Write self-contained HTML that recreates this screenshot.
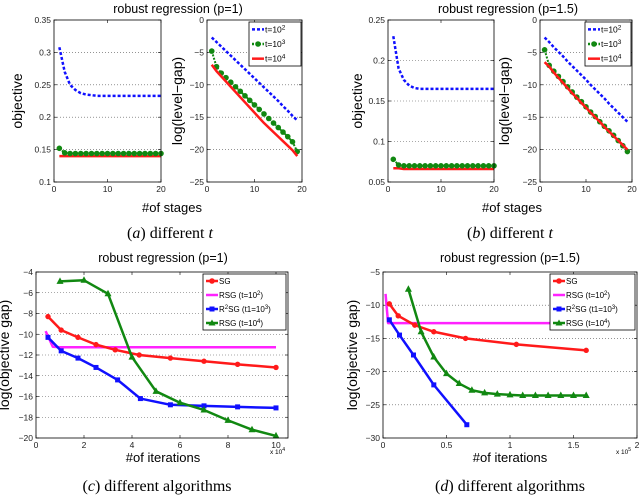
<!DOCTYPE html>
<html><head><meta charset="utf-8">
<style>
html,body{margin:0;padding:0;background:#fff;}
svg{display:block;font-family:"Liberation Sans",sans-serif;}
.cap{font-family:"Liberation Serif",serif;font-size:16px;}
</style></head>
<body>
<svg id="fig" width="640" height="497" viewBox="0 0 640 497" xmlns="http://www.w3.org/2000/svg">
<g><text x="178" y="13" font-size="12.5" text-anchor="middle">robust regression (p=1)</text></g>
<g><text x="508" y="13" font-size="12.5" text-anchor="middle">robust regression (p=1.5)</text></g>
<g><text x="163" y="262" font-size="12.5" text-anchor="middle">robust regression (p=1)</text></g>
<g><text x="510" y="262" font-size="12.5" text-anchor="middle">robust regression (p=1.5)</text></g>
<text x="172" y="212" font-size="13" text-anchor="middle">#of stages</text>
<text x="512" y="212" font-size="13" text-anchor="middle">#of stages</text>
<text x="163" y="462" font-size="13" text-anchor="middle">#of iterations</text>
<text x="510" y="462" font-size="13" text-anchor="middle">#of iterations</text>
<text x="170" y="238" class="cap" text-anchor="middle">(<tspan font-style="italic">a</tspan>) different <tspan font-style="italic">t</tspan></text>
<text x="510" y="238" class="cap" text-anchor="middle">(<tspan font-style="italic">b</tspan>) different <tspan font-style="italic">t</tspan></text>
<text x="157" y="491" class="cap" text-anchor="middle">(<tspan font-style="italic">c</tspan>) different algorithms</text>
<text x="510" y="491" class="cap" text-anchor="middle">(<tspan font-style="italic">d</tspan>) different algorithms</text>
</svg>
<script>
// ---- data ----
const stages = [1,2,3,4,5,6,7,8,9,10,11,12,13,14,15,16,17,18,19,20];
const aObjBlue  = [0.308,0.27,0.25,0.242,0.237,0.235,0.234,0.233,0.233,0.233,0.233,0.233,0.233,0.233,0.233,0.233,0.233,0.233,0.233,0.233];
const aObjGreen = [0.152,0.145,0.144,0.144,0.144,0.144,0.144,0.144,0.144,0.144,0.144,0.144,0.144,0.144,0.144,0.144,0.144,0.144,0.144,0.144];
const aObjRed   = [0.140,0.140,0.140,0.140,0.140,0.140,0.140,0.140,0.140,0.140,0.140,0.140,0.140,0.140,0.140,0.140,0.140,0.140,0.140,0.140];
const aGapBlue  = [-2.7,-3.4,-4.1,-4.8,-5.5,-6.2,-6.9,-7.6,-8.3,-9.0,-9.7,-10.4,-11.1,-11.8,-12.5,-13.3,-14.0,-14.8,-15.5];
const aGapGreen = [-4.8,-7.2,-8.2,-8.9,-9.6,-10.3,-11.0,-11.7,-12.4,-13.1,-13.8,-14.5,-15.2,-15.9,-16.6,-17.3,-18.0,-18.8,-20.3];
const aGapRed   = [-6.9,-7.9,-8.7,-9.5,-10.3,-11.1,-11.9,-12.7,-13.5,-14.3,-15.1,-15.9,-16.6,-17.3,-18.0,-18.7,-19.4,-20.1,-21.0];
const bObjBlue  = [0.23,0.19,0.176,0.169,0.166,0.165,0.165,0.165,0.165,0.165,0.165,0.165,0.165,0.165,0.165,0.165,0.165,0.165,0.165,0.165];
const bObjGreen = [0.078,0.071,0.070,0.070,0.070,0.070,0.070,0.070,0.070,0.070,0.070,0.070,0.070,0.070,0.070,0.070,0.070,0.070,0.070,0.070];
const bObjRed   = [0.067,0.067,0.066,0.066,0.066,0.066,0.066,0.066,0.066,0.066,0.066,0.066,0.066,0.066,0.066,0.066,0.066,0.066,0.066,0.066];
const bGapBlue  = [-2.7,-3.4,-4.2,-4.9,-5.6,-6.4,-7.1,-7.8,-8.5,-9.2,-10.0,-10.7,-11.4,-12.1,-12.9,-13.6,-14.3,-15.0,-15.7];
const bGapGreen = [-4.6,-7.0,-7.9,-8.7,-9.5,-10.3,-11.1,-11.9,-12.6,-13.4,-14.2,-14.9,-15.7,-16.4,-17.1,-17.8,-18.6,-19.4,-20.3];
const bGapRed   = [-6.5,-7.2,-8.1,-8.9,-9.7,-10.5,-11.3,-12.0,-12.8,-13.5,-14.3,-15.0,-15.7,-16.5,-17.2,-17.9,-18.6,-19.3,-20.0];
const cSGx=[0.5,1.05,1.75,2.5,3.3,4.3,5.6,7,8.4,10], cSGy=[-8.3,-9.6,-10.3,-11,-11.5,-12,-12.3,-12.6,-12.9,-13.2];
const cRSG2x=[0.4,0.7,1,10], cRSG2y=[-9.7,-11.2,-11.25,-11.25];
const cR2x=[0.5,1.05,1.75,2.5,3.4,4.35,5.6,7,8.4,10], cR2y=[-10.3,-11.6,-12.3,-13.2,-14.4,-16.2,-16.8,-16.9,-17,-17.1];
const cRSG4x=[1,2,3,4,5,6,7,8,9,10], cRSG4y=[-4.9,-4.8,-6.1,-12.2,-15.5,-16.6,-17.3,-18.3,-19.2,-19.8];
const dSGx=[0.05,0.12,0.25,0.4,0.65,1.05,1.6], dSGy=[-9.8,-11.6,-13,-14,-15,-15.9,-16.8];
const dRSG2x=[0.02,0.04,1.32], dRSG2y=[-8.3,-12.7,-12.7];
const dR2x=[0.05,0.13,0.24,0.4,0.66], dR2y=[-12.2,-14.5,-17.5,-22,-28];
const dRSG4x=[0.2,0.3,0.4,0.5,0.6,0.7,0.8,0.9,1.0,1.1,1.2,1.3,1.4,1.5,1.6], dRSG4y=[-7.6,-14,-17.8,-20.3,-21.8,-22.8,-23.2,-23.4,-23.5,-23.6,-23.6,-23.6,-23.6,-23.6,-23.6];
const aObjTicks=[0.1,0.15,0.2,0.25,0.3,0.35], gapTicks=[-25,-20,-15,-10,-5,0], bObjTicks=[0.05,0.1,0.15,0.2,0.25];
const stageTicks=[0,10,20], cXTicks=[0,2,4,6,8,10], cYTicks=[-20,-18,-16,-14,-12,-10,-8,-6,-4];
const dXTicks=[0,0.5,1,1.5,2], dXTickLabels=['0','0.5','1','1.5','2'], dYTicks=[-30,-25,-20,-15,-10,-5];

const NS='http://www.w3.org/2000/svg', fig=document.getElementById('fig');
function mk(tag,attrs,parent){const e=document.createElementNS(NS,tag);for(const k in attrs)e.setAttribute(k,attrs[k]);(parent||fig).appendChild(e);return e;}

function axes(name,x0,x1,y0,y1,xmin,xmax,ymin,ymax,xt,yt,xl,yl,ylabel,ylx){
  const g=mk('g',{});
  
  
  const sx=v=>x0+(v-xmin)/(xmax-xmin)*(x1-x0), sy=v=>y1-(v-ymin)/(ymax-ymin)*(y1-y0);
  mk('rect',{x:x0,y:y0,width:x1-x0,height:y1-y0,fill:'#fff',stroke:'none'},g);
  yt.forEach((v,i)=>{const y=sy(v);
    if(i>0&&i<yt.length-1) mk('line',{x1:x0,x2:x1,y1:y,y2:y,stroke:'#555','stroke-width':0.6,'stroke-dasharray':'1,2'},g);
    mk('line',{x1:x0,x2:x0+3,y1:y,y2:y,stroke:'#000','stroke-width':0.6},g);
    mk('line',{x1:x1,x2:x1-3,y1:y,y2:y,stroke:'#000','stroke-width':0.6},g);
    const t=mk('text',{x:x0-3,y:y+3,'font-size':8.5,'text-anchor':'end',fill:'#222'},g);t.textContent=yl?yl[i]:String(v).replace('-','\u2212');});
  xt.forEach((v,i)=>{const x=sx(v);
    mk('line',{x1:x,x2:x,y1:y1,y2:y1-3,stroke:'#000','stroke-width':0.6},g);
    mk('line',{x1:x,x2:x,y1:y0,y2:y0+3,stroke:'#000','stroke-width':0.6},g);
    const t=mk('text',{x:x,y:y1+10,'font-size':8.5,'text-anchor':'middle',fill:'#222'},g);t.textContent=xl?xl[i]:String(v);});
  const cy=(y0+y1)/2;
  const t=mk('text',{x:ylx,y:cy,'font-size':14,'text-anchor':'middle',transform:`rotate(-90 ${ylx} ${cy})`},g);t.textContent=ylabel;
  return {g,sx,sy,box:()=>mk('rect',{x:x0,y:y0,width:x1-x0,height:y1-y0,fill:'none',stroke:'#000','stroke-width':0.8},g)};
}
function series(ax,name,xs,ys,color,opt){
  const g=mk('g',{},ax.g);
  
  
  const pts=xs.map((x,i)=>ax.sx(x)+','+ax.sy(ys[i])).join(' ');
  const a={points:pts,fill:'none',stroke:color,'stroke-width':opt.w||2.5,'stroke-linejoin':'round'};
  if(opt.dash)a['stroke-dasharray']=opt.dash;
  mk('polyline',a,g);
  if(opt.marker) xs.forEach((x,i)=>{const px=ax.sx(x),py=ax.sy(ys[i]),r=opt.r||3;
    let m;
    if(opt.marker==='o') m=mk('circle',{cx:px,cy:py,r:r,fill:color},g);
    else if(opt.marker==='s') m=mk('rect',{x:px-r,y:py-r,width:2*r,height:2*r,fill:color},g);
    else m=mk('polygon',{points:`${px},${py-r-1} ${px-r-0.5},${py+r-0.5} ${px+r+0.5},${py+r-0.5}`,fill:color},g);
    
    
  });
}
function legend(name,x,y,w,h,items,fs){
  const g=mk('g',{});
  
  
  mk('rect',{x,y,width:w,height:h,fill:'#fff',stroke:'#000','stroke-width':0.8},g);
  const step=h/items.length;
  items.forEach((it,i)=>{const cy=y+step*(i+0.5);
    const a={x1:x+3,x2:x+15,y1:cy,y2:cy,stroke:it.c,'stroke-width':2.5};if(it.dash)a['stroke-dasharray']=it.dash;mk('line',a,g);
    if(it.m==='o')mk('circle',{cx:x+9,cy:cy,r:2.8,fill:it.c},g);
    if(it.m==='s')mk('rect',{x:x+6.5,y:cy-2.5,width:5,height:5,fill:it.c},g);
    if(it.m==='^')mk('polygon',{points:`${x+9},${cy-3.5} ${x+5.5},${cy+2.5} ${x+12.5},${cy+2.5}`,fill:it.c},g);
    const t=mk('text',{x:x+16,y:cy+3,'font-size':fs},g);t.innerHTML=it.t;
    
    });
}
const B='#1010ff',G='#118811',R='#ff1a1a',M='#ff22ff',BL='#1010ff';
let ax=axes('panel-a-objective',54,161,20,182,0,20,0.1,0.35,stageTicks,aObjTicks,null,['0.1','0.15','0.2','0.25','0.3','0.35'],'objective',22);
series(ax,'a-obj-t1e4',stages,aObjRed,R,{w:2.5});
series(ax,'a-obj-t1e3',stages,aObjGreen,G,{w:2,dash:'2,1.5',marker:'o',r:2.8});
series(ax,'a-obj-t1e2',stages,aObjBlue,B,{w:2.5,dash:'3,2'});
ax.box();
ax=axes('panel-a-gap',207,302,20,182,0,20,-25,0,stageTicks,gapTicks,null,null,'log(level\u2212gap)',182);
series(ax,'a-gap-t1e2',stages.slice(0,19),aGapBlue,B,{w:2.5,dash:'3,2'});
series(ax,'a-gap-t1e3',stages.slice(0,19),aGapGreen,G,{w:2,dash:'2,1.5',marker:'o',r:2.8});
series(ax,'a-gap-t1e4',stages.slice(0,19),aGapRed,R,{w:2.5});
ax.box();
legend('legend-a',249,22,52,44,[{c:B,dash:'3,2',t:'t=10<tspan font-size="6.5" dy="-3">2</tspan>'},{c:G,dash:'2,1.5',m:'o',t:'t=10<tspan font-size="6.5" dy="-3">3</tspan>'},{c:R,t:'t=10<tspan font-size="6.5" dy="-3">4</tspan>'}],8.5);
ax=axes('panel-b-objective',388,494,20,182,0,20,0.05,0.25,stageTicks,bObjTicks,null,['0.05','0.1','0.15','0.2','0.25'],'objective',362);
series(ax,'b-obj-t1e4',stages,bObjRed,R,{w:2.5});
series(ax,'b-obj-t1e3',stages,bObjGreen,G,{w:2,dash:'2,1.5',marker:'o',r:2.8});
series(ax,'b-obj-t1e2',stages,bObjBlue,B,{w:2.5,dash:'3,2'});
ax.box();
ax=axes('panel-b-gap',540,632,20,182,0,20,-25,0,stageTicks,gapTicks,null,null,'log(level\u2212gap)',509);
series(ax,'b-gap-t1e2',stages.slice(0,19),bGapBlue,B,{w:2.5,dash:'3,2'});
series(ax,'b-gap-t1e3',stages.slice(0,19),bGapGreen,G,{w:2,dash:'2,1.5',marker:'o',r:2.8});
series(ax,'b-gap-t1e4',stages.slice(0,19),bGapRed,R,{w:2.5});
ax.box();
legend('legend-b',585,22,46,44,[{c:B,dash:'3,2',t:'t=10<tspan font-size="6.5" dy="-3">2</tspan>'},{c:G,dash:'2,1.5',m:'o',t:'t=10<tspan font-size="6.5" dy="-3">3</tspan>'},{c:R,t:'t=10<tspan font-size="6.5" dy="-3">4</tspan>'}],8.5);
ax=axes('panel-c',36,288,272,438,0,10.5,-20,-4,cXTicks,cYTicks,null,null,'log(objective gap)',9);
series(ax,'c-rsg-1e2',cRSG2x,cRSG2y,M,{w:2.5});
series(ax,'c-sg',cSGx,cSGy,R,{w:2.5,marker:'o',r:2.7});
series(ax,'c-r2sg',cR2x,cR2y,BL,{w:2.5,marker:'s',r:2.5});
series(ax,'c-rsg-1e4',cRSG4x,cRSG4y,G,{w:2.5,marker:'^',r:3});
ax.box();
mk('text',{x:270,y:454,'font-size':6.5}).innerHTML='x 10<tspan font-size="5" dy="-3">4</tspan>';
legend('legend-c',203,274,83,56,[{c:R,m:'o',t:'SG'},{c:M,t:'RSG (t=10<tspan font-size="6" dy="-3">2</tspan><tspan dy="3">)</tspan>'},{c:BL,m:'s',t:'R<tspan font-size="6" dy="-3">2</tspan><tspan dy="3">SG (t1=10</tspan><tspan font-size="6" dy="-3">3</tspan><tspan dy="3">)</tspan>'},{c:G,m:'^',t:'RSG (t=10<tspan font-size="6" dy="-3">4</tspan><tspan dy="3">)</tspan>'}],8);
ax=axes('panel-d',383,637,272,438,0,2,-30,-5,dXTicks,dYTicks,dXTickLabels,null,'log(objective gap)',357);
series(ax,'d-rsg-1e2',dRSG2x,dRSG2y,M,{w:2.5});
series(ax,'d-sg',dSGx,dSGy,R,{w:2.5,marker:'o',r:2.7});
series(ax,'d-r2sg',dR2x,dR2y,BL,{w:2.5,marker:'s',r:2.5});
series(ax,'d-rsg-1e4',dRSG4x,dRSG4y,G,{w:2.5,marker:'^',r:3});
ax.box();
mk('text',{x:616,y:454,'font-size':6.5}).innerHTML='x 10<tspan font-size="5" dy="-3">5</tspan>';
legend('legend-d',550,274,85,56,[{c:R,m:'o',t:'SG'},{c:M,t:'RSG (t=10<tspan font-size="6" dy="-3">2</tspan><tspan dy="3">)</tspan>'},{c:BL,m:'s',t:'R<tspan font-size="6" dy="-3">2</tspan><tspan dy="3">SG (t1=10</tspan><tspan font-size="6" dy="-3">3</tspan><tspan dy="3">)</tspan>'},{c:G,m:'^',t:'RSG (t=10<tspan font-size="6" dy="-3">4</tspan><tspan dy="3">)</tspan>'}],8);
</script>
</body></html>
